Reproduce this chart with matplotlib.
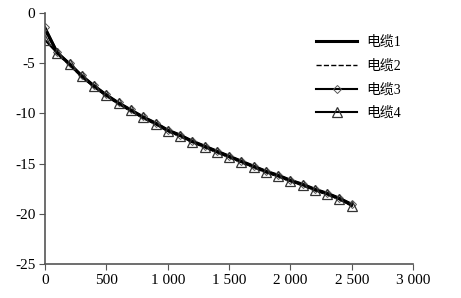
import numpy as np
import matplotlib
matplotlib.use("Agg")
import matplotlib.pyplot as plt
from matplotlib.ticker import FuncFormatter

# distance along cable, sampled every 100
x = np.arange(0, 2600, 100)

cable1 = [-1.6, -4.0, -5.1, -6.3, -7.3, -8.2, -9.0, -9.7, -10.4, -11.0,
          -11.7, -12.2, -12.8, -13.3, -13.8, -14.3, -14.8, -15.3, -15.8,
          -16.2, -16.7, -17.1, -17.6, -18.0, -18.5, -19.1]
cable2 = [-1.8, -4.1, -5.2, -6.4, -7.4, -8.3, -9.1, -9.8, -10.5, -11.1,
          -11.8, -12.3, -12.9, -13.4, -13.9, -14.4, -14.9, -15.4, -15.9,
          -16.3, -16.8, -17.2, -17.7, -18.1, -18.6, -19.2]
cable3 = [-1.4, -3.9, -5.0, -6.2, -7.2, -8.1, -8.9, -9.6, -10.3, -10.9,
          -11.6, -12.1, -12.7, -13.2, -13.7, -14.2, -14.7, -15.2, -15.7,
          -16.1, -16.6, -17.0, -17.5, -17.9, -18.4, -19.0]
cable4 = [-2.7, -4.0, -5.1, -6.3, -7.3, -8.2, -9.0, -9.7, -10.4, -11.0,
          -11.7, -12.2, -12.8, -13.3, -13.8, -14.3, -14.8, -15.3, -15.8,
          -16.2, -16.7, -17.1, -17.6, -18.0, -18.5, -19.2]

labels = ["电缆1", "电缆2", "电缆3", "电缆4"]
xticks = [0, 500, 1000, 1500, 2000, 2500, 3000]
yticks = [0, -5, -10, -15, -20, -25]

plt.rcParams['font.family'] = ['Liberation Serif', 'Noto Sans CJK SC']

fig = plt.figure(figsize=(4.61, 2.98), dpi=100)
ax = fig.add_axes([0.098, 0.114, 0.798, 0.842])

ax.plot(x, cable1, color='black', lw=2.2, label=labels[0])
ax.plot(x, cable2, color='black', lw=1.0, ls='--', label=labels[1])
ax.plot(x, cable3, color='black', lw=1.5, marker='D', ms=4,
        mfc='none', mec='#555555', mew=0.7, label=labels[3 - 1])
ax.plot(x, cable4, color='black', lw=1.5, marker='^', ms=7,
        mfc='none', mec='#333333', mew=0.9, label=labels[3])

ax.set_xlim(0, 3000)
ax.set_ylim(-25, 0)
ax.set_xticks(xticks)
ax.set_yticks(yticks)
ax.xaxis.set_major_formatter(FuncFormatter(lambda v, p: f"{int(v):,}".replace(",", " ")))
ax.yaxis.set_major_formatter(FuncFormatter(lambda v, p: f"{int(v)}"))

for s in ['top', 'right']:
    ax.spines[s].set_visible(False)
for s in ['left', 'bottom']:
    ax.spines[s].set_color('#555555')
    ax.spines[s].set_linewidth(1.2)
ax.tick_params(direction='out', length=4, color='#555555', labelsize=11, pad=3)

ax.legend(loc='upper right', bbox_to_anchor=(1.0, 0.96), frameon=False,
          fontsize=10, handlelength=3.0, labelspacing=0.75, handletextpad=0.6)

fig.savefig("out.png", dpi=100)
